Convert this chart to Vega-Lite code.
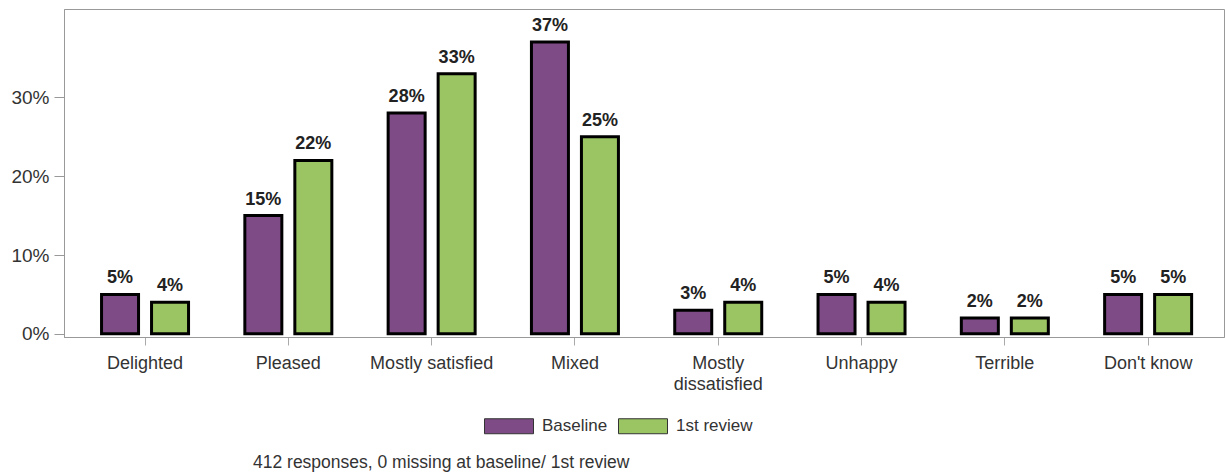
{
  "$schema": "https://vega.github.io/schema/vega-lite/v6.json",
  "width": 1160,
  "height": 328,
  "autosize": "none",
  "padding": {"left": 64, "top": 9, "right": 1, "bottom": 136},
  "background": "white",
  "title": {
    "text": "412 responses, 0 missing at baseline/ 1st review",
    "orient": "bottom",
    "anchor": "start",
    "frame": "group",
    "dx": 189,
    "offset": 18,
    "fontSize": 17.5,
    "fontWeight": "normal",
    "font": "Liberation Sans",
    "color": "#333333"
  },
  "data": {
    "values": [
      {"cat": "Delighted", "series": "Baseline", "pct": 0.05},
      {"cat": "Delighted", "series": "1st review", "pct": 0.04},
      {"cat": "Pleased", "series": "Baseline", "pct": 0.15},
      {"cat": "Pleased", "series": "1st review", "pct": 0.22},
      {"cat": "Mostly satisfied", "series": "Baseline", "pct": 0.28},
      {"cat": "Mostly satisfied", "series": "1st review", "pct": 0.33},
      {"cat": "Mixed", "series": "Baseline", "pct": 0.37},
      {"cat": "Mixed", "series": "1st review", "pct": 0.25},
      {"cat": "Mostly dissatisfied", "series": "Baseline", "pct": 0.03},
      {"cat": "Mostly dissatisfied", "series": "1st review", "pct": 0.04},
      {"cat": "Unhappy", "series": "Baseline", "pct": 0.05},
      {"cat": "Unhappy", "series": "1st review", "pct": 0.04},
      {"cat": "Terrible", "series": "Baseline", "pct": 0.02},
      {"cat": "Terrible", "series": "1st review", "pct": 0.02},
      {"cat": "Don't know", "series": "Baseline", "pct": 0.05},
      {"cat": "Don't know", "series": "1st review", "pct": 0.05}
    ]
  },
  "encoding": {
    "x": {
      "field": "cat",
      "type": "nominal",
      "sort": null,
      "scale": {"paddingInner": 0, "paddingOuter": 0.0475, "align": 0.69},
      "axis": {
        "title": null,
        "labelAngle": 0,
        "labelFont": "Liberation Sans",
        "labelFontSize": 18,
        "labelColor": "#333333",
        "labelPadding": 9,
        "labelLineHeight": 21,
        "labelExpr": "datum.value == 'Mostly dissatisfied' ? ['Mostly', 'dissatisfied'] : datum.value",
        "tickSize": 8,
        "tickColor": "#aaaaaa",
        "domainColor": "#999999",
        "grid": false
      }
    },
    "xOffset": {
      "field": "series",
      "type": "nominal",
      "sort": ["Baseline", "1st review"],
      "scale": {"paddingInner": 0.26, "paddingOuter": 0.563}
    },
    "y": {
      "field": "pct",
      "type": "quantitative",
      "scale": {"domain": [-0.004, 0.412], "nice": false, "zero": false},
      "axis": {
        "title": null,
        "values": [0, 0.1, 0.2, 0.3],
        "format": ".0%",
        "grid": false,
        "labelFont": "Liberation Sans",
        "labelFontSize": 19,
        "labelColor": "#333333",
        "labelPadding": 5,
        "tickSize": 10,
        "tickColor": "#999999",
        "domainColor": "#999999"
      }
    }
  },
  "layer": [
    {
      "mark": {"type": "bar", "stroke": "#000000", "strokeWidth": 3},
      "encoding": {
        "y2": {"datum": 0},
        "color": {
          "field": "series",
          "type": "nominal",
          "sort": ["Baseline", "1st review"],
          "scale": {"domain": ["Baseline", "1st review"], "range": ["#7f4b87", "#9bc463"]},
          "legend": {
            "title": null,
            "orient": "none",
            "direction": "horizontal",
            "legendX": 420,
            "legendY": 392,
            "padding": 0,
            "symbolType": "M-1,-0.306H1V0.306H-1Z",
            "symbolSize": 2401,
            "symbolStrokeColor": "#333333",
            "symbolStrokeWidth": 1,
            "symbolOpacity": 1,
            "labelFont": "Liberation Sans",
            "labelFontSize": 17,
            "labelColor": "#333333",
            "labelOffset": 8,
            "columnPadding": 8
          }
        }
      }
    },
    {
      "mark": {"type": "text", "baseline": "alphabetic", "dy": -11, "fontWeight": "bold", "font": "Liberation Sans", "fontSize": 18, "color": "#222222"},
      "encoding": {
        "text": {"field": "pct", "type": "quantitative", "format": ".0%"}
      }
    }
  ],
  "config": {
    "view": {"stroke": "#999999", "strokeWidth": 1}
  }
}
